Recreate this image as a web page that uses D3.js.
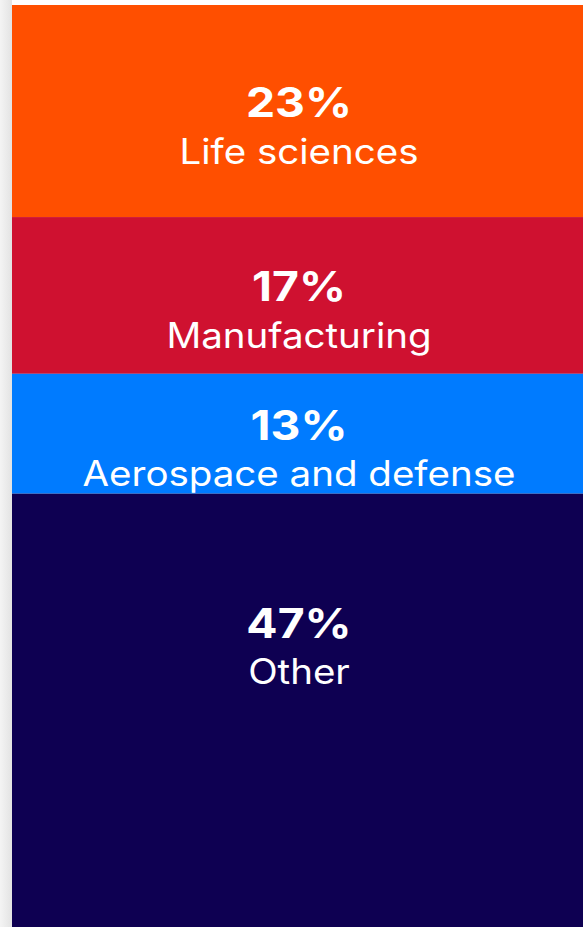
<!DOCTYPE html>
<meta charset="utf-8">
<style>
  html, body { margin: 0; padding: 0; background: #fff; overflow: hidden; }
</style>

<!-- Load d3.js -->
<script src="https://d3js.org/d3.v7.min.js"></script>

<div id="my_dataviz"></div>

<script>

// data
var categories = ["Life sciences", "Manufacturing", "Aerospace and defense", "Other"];
var shares = [23, 17, 13, 47];
var colors = ["#ff4f00", "#cf1130", "#007bff", "#0e0052"];

var width = 583, height = 927;

var svg = d3.select("#my_dataviz")
  .append("svg")
    .attr("width", width)
    .attr("height", height);

// soft grey strip down the left edge
var grad = svg.append("defs").append("linearGradient")
    .attr("id", "edge")
    .attr("x1", "0").attr("x2", "1").attr("y1", "0").attr("y2", "0");
grad.append("stop").attr("offset", "0%").attr("stop-color", "#f4f4f4");
grad.append("stop").attr("offset", "100%").attr("stop-color", "#e3e3e3");

svg.append("rect")
  .attr("x", 0).attr("y", 0)
  .attr("width", 12).attr("height", height)
  .attr("fill", "url(#edge)");

// stacked data
var rows = [];
var acc = 0;
shares.forEach(function(v, i) {
  rows.push({ name: categories[i], value: v, start: acc, end: acc + v, color: colors[i] });
  acc += v;
});

var x = d3.scaleBand()
  .domain(["share"])
  .range([12, width])
  .padding(0);

var y = d3.scaleLinear()
  .domain([0, d3.sum(shares)])
  .range([5, height]);

svg.selectAll("rect.seg")
  .data(rows)
  .enter()
  .append("rect")
    .attr("class", "seg")
    .attr("x", x("share"))
    .attr("width", x.bandwidth())
    .attr("y", function(d) { return y(d.start); })
    .attr("height", function(d) { return y(d.end) - y(d.start); })
    .attr("fill", function(d) { return d.color; });

// label block sits a little below the middle, but never too deep into a tall segment
function labelMid(d) {
  var top = y(d.start), mid = (y(d.start) + y(d.end)) / 2 + 14;
  return Math.min(mid, top + 152);
}

var cx = x("share") + x.bandwidth() / 2 + 1.5;

var labels = svg.selectAll("g.lab")
  .data(rows)
  .enter()
  .append("g")
    .attr("class", "lab")
    .attr("transform", function(d) { return "translate(" + cx + "," + labelMid(d) + ")"; });

// the original face is a bit wider than Inter, so stretch it horizontally
labels.append("text")
  .attr("transform", "translate(0,-8) scale(1.13,1)")
  .attr("text-anchor", "middle")
  .attr("font-family", "Inter, 'Noto Sans', sans-serif")
  .attr("font-weight", "bold")
  .attr("font-size", "41px")
  .attr("fill", "#fff")
  .text(function(d) { return d.value + "%"; });

labels.append("text")
  .attr("transform", "translate(0,38.5) scale(1.1,1)")
  .attr("text-anchor", "middle")
  .attr("font-family", "Inter, 'Noto Sans', sans-serif")
  .attr("font-size", "35px")
  .attr("fill", "#fff")
  .text(function(d) { return d.name; });

</script>
